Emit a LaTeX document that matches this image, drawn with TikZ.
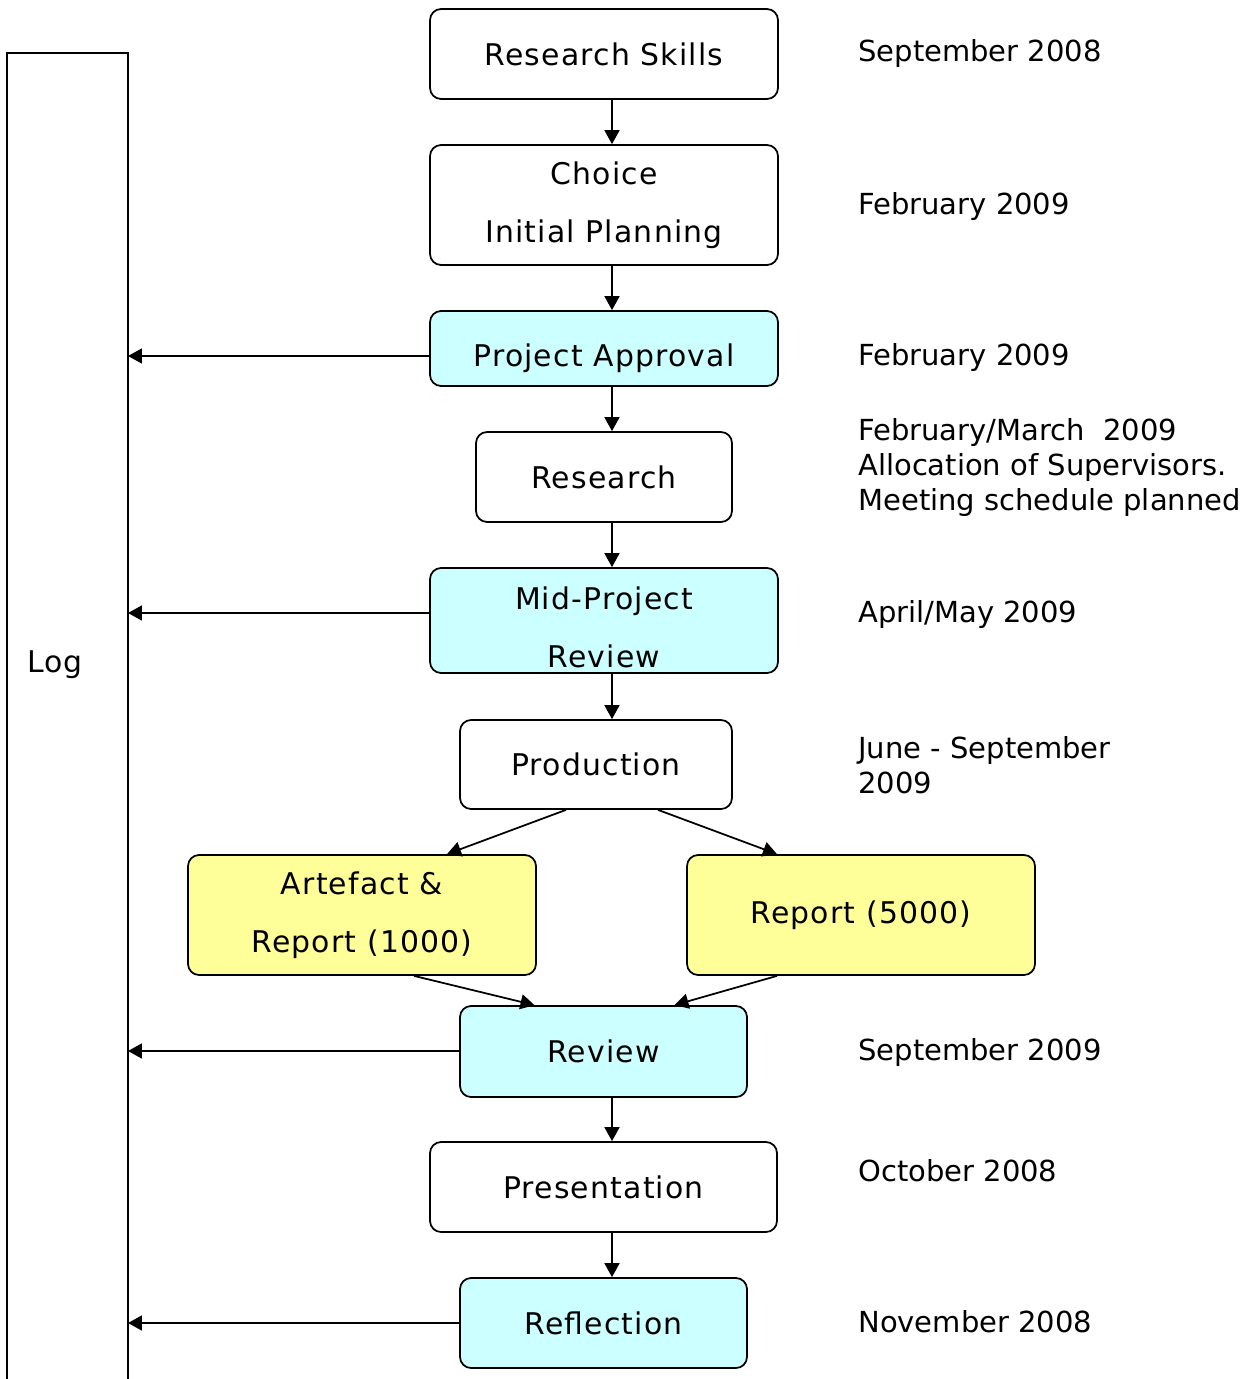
\documentclass[tikz,border=0pt]{standalone}
\usepackage{fontspec}
\setmainfont{DejaVu Sans}
\newfontfamily\stagefont[LetterSpace=4]{DejaVu Sans}
\usetikzlibrary{calc,arrows.meta}
\definecolor{stagecyan}{HTML}{CCFFFF}
\definecolor{stageyellow}{HTML}{FFFF99}
\tikzstyle{stage} = [rectangle, draw, line width=0.35mm, text centered, rounded corners = 0.22cm, align=center, font=\stagefont\fontsize{17}{20}\selectfont]
\tikzstyle{milestone} = [stage, fill=stagecyan]
\tikzstyle{output} = [stage, fill=stageyellow]
\tikzstyle{when} = [anchor=west, align=left, inner sep=0pt, font=\fontsize{16.5}{20}\selectfont]
\tikzstyle{connector} = [line width=0.35mm, -{Triangle[length=0.28cm, width=0.3cm]}]

\begin{document}
\begin{tikzpicture}[x=0.02cm, y=-0.02cm]
        \useasboundingbox (0,0) rectangle (1243,1379);
        % stages
        \node (skills) [stage, minimum width=6.96cm, minimum height=1.8cm] at (604,54) {Research Skills};
        \node (choice) [stage, minimum width=6.96cm, minimum height=2.4cm] at (604,205) {Choice\\[13pt]Initial Planning};
        \node (approval) [milestone, minimum width=6.96cm, minimum height=1.5cm] at (604,348.5) {\raisebox{-10.5pt}[0pt][0pt]{Project Approval}};
        \node (research) [stage, minimum width=5.12cm, minimum height=1.8cm] at (604,477) {Research};
        \node (midreview) [milestone, minimum width=6.96cm, minimum height=2.1cm] at (604,620.5) {\raisebox{-8.5pt}[0pt][0pt]{\parbox{6cm}{\centering Mid-Project\\[13pt]Review}}};
        \node (production) [stage, minimum width=5.44cm, minimum height=1.78cm] at (596,764.5) {Production};
        \node (artefact) [output, minimum width=6.96cm, minimum height=2.4cm] at (362,915) {Artefact \&\\[13pt]Report (1000)};
        \node (report) [output, minimum width=6.96cm, minimum height=2.4cm] at (861,915) {Report (5000)};
        \node (review) [milestone, minimum width=5.74cm, minimum height=1.82cm] at (603.5,1051.5) {Review};
        \node (presentation) [stage, minimum width=6.94cm, minimum height=1.8cm] at (603.5,1187) {Presentation};
        \node (reflection) [milestone, minimum width=5.74cm, minimum height=1.8cm] at (603.5,1323) {Reflection};
        % log column
        \draw [line width=0.35mm] (7,1379) -- (7,53) -- (128,53) -- (128,1379);
        \node (log) [font=\stagefont\fontsize{17}{20}\selectfont] at (55,665) {Log};
        \coordinate (logedge) at (128,0);
        \coordinate (spine) at (612,0);
        % dates
        \node (d1) [when] at (858,54) {September 2008};
        \node (d2) [when] at (858,206) {February 2009};
        \node (d3) [when] at (858,357) {February 2009};
        \node (d4) [when, anchor=north west] at (858,418) {February/March\ \ 2009\\Allocation of Supervisors.\\Meeting schedule planned};
        \node (d5) [when] at (858,614) {April/May 2009};
        \node (d6) [when, anchor=north west] at (858,736) {June - September\\2009};
        \node (d7) [when] at (858,1052) {September 2009};
        \node (d8) [when] at (858,1171) {October 2008};
        \node (d9) [when] at (858,1322) {November 2008};
        % flow
        \draw [connector] (skills.south -| spine) -- (choice.north -| spine);
        \draw [connector] (choice.south -| spine) -- (approval.north -| spine);
        \draw [connector] (approval.south -| spine) -- (research.north -| spine);
        \draw [connector] (research.south -| spine) -- (midreview.north -| spine);
        \draw [connector] (midreview.south -| spine) -- (production.north -| spine);
        \draw [connector] ($(production.south)+(-30,0)$) -- ($(artefact.north)+(85,0)$);
        \draw [connector] ($(production.south)+(62,0)$) -- ($(report.north)+(-84,0)$);
        \draw [connector] ($(artefact.south)+(52,0)$) -- ($(review.north)+(-69,0)$);
        \draw [connector] ($(report.south)+(-84,0)$) -- ($(review.north)+(71,0)$);
        \draw [connector] (review.south -| spine) -- (presentation.north -| spine);
        \draw [connector] (presentation.south -| spine) -- (reflection.north -| spine);
        % to the log
        \draw [connector] ($(approval.west)+(0,7.5)$) -- ($(approval.west -| logedge)+(0,7.5)$);
        \draw [connector] ($(midreview.west)+(0,-7.5)$) -- ($(midreview.west -| logedge)+(0,-7.5)$);
        \draw [connector] ($(review.west)+(0,-0.5)$) -- ($(review.west -| logedge)+(0,-0.5)$);
        \draw [connector] (reflection.west) -- (reflection.west -| logedge);
    \end{tikzpicture}
\end{document}
